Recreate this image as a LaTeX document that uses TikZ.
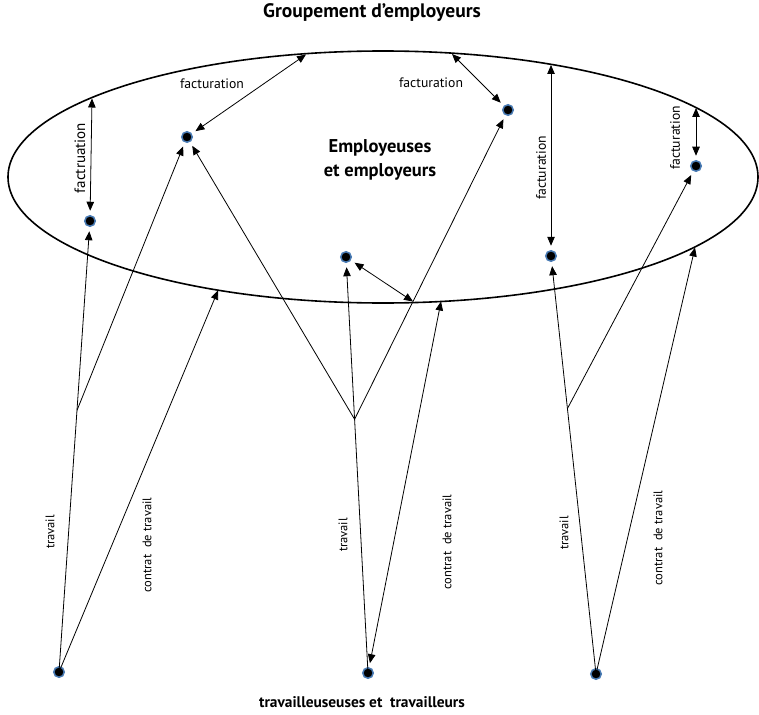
\documentclass[tikz,border=0pt]{standalone}
\usepackage{fontspec}
\setmainfont{PT Sans}
\usetikzlibrary{arrows.meta,shapes.geometric,calc}
\definecolor{dotblue}{HTML}{4A7CB5}
\begin{document}
\begin{tikzpicture}[x=1pt,y=-1pt,
  empdot/.style={circle, fill=black, draw=dotblue, line width=1.5pt, minimum size=10.5pt, inner sep=0pt, outer sep=5pt},
  workdot/.style={circle, fill=black, draw=dotblue, line width=1.5pt, minimum size=10.5pt, inner sep=0pt, outer sep=0pt},
  conn/.style={line width=0.8pt},
  arr/.style={conn, -{Triangle[length=9pt,width=7.5pt]}},
  darr/.style={conn, {Triangle[length=9pt,width=7.5pt]}-{Triangle[length=9pt,width=7.5pt]}},
  flbl/.style={font=\fontsize{13.7}{16}\selectfont, inner sep=0pt},
  vflbl/.style={flbl, rotate=90},
  wlbl/.style={font=\fontsize{12.5}{15}\selectfont, inner sep=0pt, rotate=90},
  title/.style={font=\fontsize{19.5}{22}\selectfont\bfseries, inner sep=0pt, align=center}]
\useasboundingbox (0,0) rectangle (759,714);

% titles
\node[title] (tg) at (372,13) {Groupement d'employeurs};
\node[title, font=\fontsize{18.5}{24}\selectfont\bfseries] (te) at (380,160) {Employeuses\\et employeurs};
\node[title, font=\fontsize{15.4}{18}\selectfont\bfseries] (tw) at (362,702) {travailleuseuses et\ \ travailleurs};

% ellipse
\node[draw, ellipse, line width=1.6pt, minimum width=750pt, minimum height=252pt, inner sep=0pt] (E) at (383,177) {};

% points on the ellipse
\coordinate (e1) at (92,98.5);
\coordinate (e2) at (306,54.5);
\coordinate (e3) at (452,54);
\coordinate (e4) at (551,65);
\coordinate (e5) at (696,108);
\coordinate (e6) at (413,301.5);
\coordinate (c1) at (218,290.5);
\coordinate (c2) at (441,301.5);
\coordinate (c3) at (695,247.5);

% employer dots
\node[empdot] (D1) at (90,221) {};
\node[empdot] (D2) at (187,137) {};
\node[empdot] (D3) at (346,257) {};
\node[empdot] (D4) at (508,110) {};
\node[empdot] (D5) at (551,256) {};
\node[empdot] (D6) at (696,166) {};

% worker dots
\node[workdot] (W1) at (59,672) {};
\node[workdot] (W2) at (368,673) {};
\node[workdot] (W3) at (596,674) {};

% facturation
\draw[darr] (e1) -- (D1);
\draw[darr] (e2) -- (D2);
\draw[darr] (e3) -- (D4);
\draw[darr] (e4) -- (D5);
\draw[darr] (e5) -- (D6);
\draw[darr] (D3) -- (e6);

\node[vflbl, font=\fontsize{15}{18}\selectfont] (l1) at (80,158) {factruation};
\node[flbl] (l2) at (212,84) {facturation};
\node[flbl] (l3) at (431,83) {facturation};
\node[vflbl] (l4) at (541,168) {facturation};
\node[vflbl] (l5) at (675,138) {facturation};

% travail
\coordinate (b1) at ($(W1.center)!0.58!(D1.center)$);
\coordinate (b2) at ($(W2.center)!0.61!(D3.center)$);
\coordinate (b3) at ($(W3.center)!0.635!(D5.center)$);
\draw[arr] (W1.center) -- (D1);
\draw[arr] (W2.center) -- (D3);
\draw[arr] (W3.center) -- (D5);
\draw[arr] (b1) -- (D2);
\draw[arr] (b2) -- (D2);
\draw[arr] (b2) -- (D4);
\draw[arr] (b3) -- (D6);

% contrat de travail
\draw[arr] (W1.center) -- (c1);
\draw[darr] (c2) -- ($(W2.center)!10pt!(c2)$);
\draw[arr] (W3.center) -- (c3);

\node[wlbl] (t1) at (50,532) {travail};
\node[wlbl] (k1) at (147,545) {contrat\ \ de travail};
\node[wlbl] (t2) at (343,535) {travail};
\node[wlbl] (k2) at (447,542) {contrat\ \ de travail};
\node[wlbl] (t3) at (564,533) {travail};
\node[wlbl] (k3) at (658,538) {contrat\ \ de travail};
\end{tikzpicture}
\end{document}
